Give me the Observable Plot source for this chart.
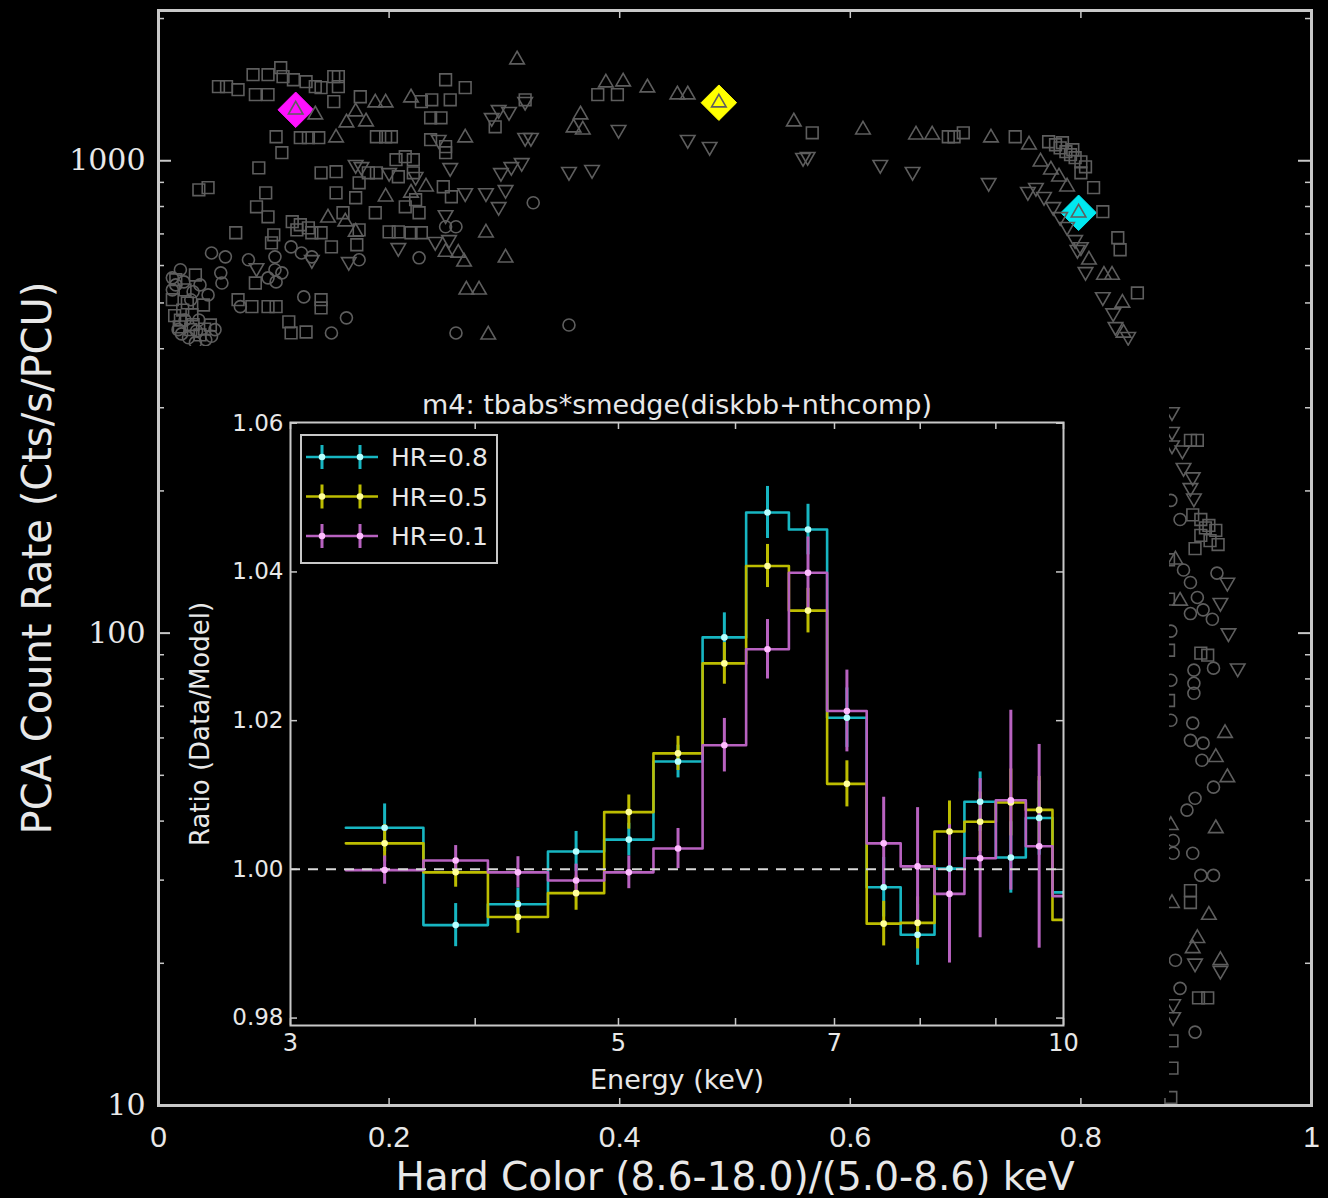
<!DOCTYPE html>
<html>
<head>
<meta charset="utf-8">
<script src="https://cdn.jsdelivr.net/npm/d3@7"></script>
<script src="https://cdn.jsdelivr.net/npm/@observablehq/plot@0.6"></script>
<style>
  html, body { margin: 0; padding: 0; background: #000; }
  #wrap { position: relative; width: 1328px; height: 1198px; overflow: hidden; background: #000; }
  #inset { position: absolute; left: 170px; top: 346px; }
  svg { display: block; }
</style>
</head>
<body>
<div id="wrap"><div id="main"></div><div id="inset"></div></div>
<script>
// ---------------- Hardness–intensity diagram: [hard colour, PCA count rate] ----------------
const squarePts = [
  [0.052,1435],[0.059,1435],[0.069,1414],[0.082,1521],[0.084,1380],[0.095,1521],[0.095,1380],[0.106,1574],[0.108,1507],[0.117,1484],
  [0.128,1470],[0.136,1435],[0.141,1428],[0.152,1507],[0.156,1507],[0.156,1435],[0.152,1334],[0.175,1366],[0.228,1334],[0.237,1346],
  [0.249,1484],[0.253,1346],[0.266,1428],[0.236,1233],[0.245,1233],[0.292,1180],[0.318,1346],
  [0.102,1124],[0.123,1119],[0.130,1119],[0.139,1119],[0.107,1040],[0.189,1124],[0.197,1124],[0.202,1124],[0.236,1108],[0.249,1071],[0.249,1040],
  [0.087,966],[0.141,943],[0.154,948],[0.174,898],[0.182,943],[0.189,943],[0.206,1005],[0.214,1020],[0.221,1005],[0.208,925],[0.221,943],[0.247,881],[0.254,839],
  [0.035,868],[0.043,877],[0.093,855],[0.085,799],[0.095,761],[0.154,855],[0.171,835],[0.160,776],[0.188,776],[0.214,799],[0.226,776],[0.223,827],
  [0.116,743],[0.123,732],[0.130,721],[0.120,714],[0.067,704],[0.100,697],[0.133,704],[0.141,704],[0.174,714],[0.200,707],[0.208,707],[0.219,704],[0.228,704],
  [0.150,657],[0.172,664],[0.098,670],
  [0.084,551],[0.069,508],[0.081,491],[0.095,491],[0.102,491],[0.141,508],[0.141,488],[0.113,456],[0.115,432],[0.128,434],
  [0.015,560],[0.023,533],[0.032,573],[0.019,460],[0.028,439],[0.036,428],[0.045,449],[0.012,508],[0.021,483],[0.029,472],[0.039,495],
  [0.018,445],[0.030,450],[0.040,440],[0.014,470],[0.025,500],
  [0.381,1380],[0.398,1380],[0.567,1146],[0.685,1124],
  [0.690,1124],[0.698,1146],[0.743,1124],[0.772,1097],[0.778,1081],[0.782,1065],[0.787,1045],[0.791,1030],[0.795,1015],[0.800,995],
  [0.804,971],[0.784,1092],[0.793,1055],[0.800,943],[0.811,877],[0.819,780],[0.832,687],[0.834,648],[0.849,525],
  [0.895,256],[0.901,256],[0.897,178],[0.904,174],[0.911,169],[0.917,165],[0.904,161],[0.912,157],[0.919,154],[0.899,151],[0.908,167],
  [0.904,90.7],[0.910,89.8],[0.895,28.5],[0.895,26.9],[0.902,16.9],[0.910,16.9],[0.879,13.7],[0.879,12.0],[0.878,10.4],
  [0.876,143],[0.876,118],[0.876,92],[0.876,72]
];
const triUpPts = [
  [0.188,1327],[0.197,1327],[0.171,1270],[0.163,1204],[0.180,1210],[0.154,1119],[0.136,1252],[0.219,1360],[0.266,1119],[0.232,881],
  [0.197,839],[0.219,855],[0.147,757],[0.162,743],[0.171,707],[0.284,704],[0.301,623],[0.249,641],[0.260,638],[0.265,611],
  [0.267,533],[0.278,533],[0.286,428],[0.311,1637],
  [0.388,1463],[0.403,1470],[0.424,1428],[0.450,1380],[0.459,1380],[0.366,1252],[0.360,1175],[0.368,1163],[0.551,1210],[0.611,1163],[0.657,1135],[0.671,1135],
  [0.722,1119],[0.755,1081],[0.765,995],[0.774,957],[0.781,925],[0.788,881],[0.807,617],[0.820,573],[0.827,573],[0.836,500],[0.837,432],
  [0.119,1282],[0.486,1327],[0.798,776],
  [0.925,61.4],[0.917,54.6],[0.927,49.5],[0.917,38.6],[0.878,39.2],[0.911,25.3],[0.901,22.6],[0.897,21.5],[0.921,20.3],[0.879,26.8],[0.886,117],[0.882,143]
];
const triDownPts = [
  [0.171,981],[0.176,971],[0.200,943],[0.223,925],[0.249,768],[0.253,966],[0.266,855],[0.284,855],[0.295,799],[0.301,868],
  [0.297,943],[0.306,971],[0.315,990],[0.318,1119],[0.323,1119],[0.289,1233],[0.295,1282],[0.304,1270],[0.318,1334],[0.133,617],
  [0.085,593],[0.208,654],[0.165,611],[0.240,674],[0.252,680],[0.243,1108],
  [0.399,1163],[0.459,1108],[0.478,1071],[0.559,1015],[0.563,1020],[0.626,981],[0.654,948],[0.356,948],[0.376,957],
  [0.720,898],[0.754,860],[0.761,877],[0.768,839],[0.776,799],[0.782,761],[0.788,725],[0.795,680],[0.800,657],[0.797,648],
  [0.804,582],[0.819,515],[0.828,476],[0.830,445],[0.841,424],
  [0.879,294],[0.879,267],[0.879,250],[0.888,244],[0.889,224],[0.897,214],[0.895,203],[0.898,193],[0.928,100],[0.936,84.3],
  [0.921,116],[0.927,128],[0.921,19.3],[0.899,20.0],[0.880,15.4],[0.880,16.4]
];
const circlePts = [
  [0.046,638],[0.058,626],[0.078,617],[0.101,626],[0.115,657],[0.124,638],[0.133,626],[0.101,588],[0.107,579],[0.095,565],
  [0.102,554],[0.054,579],[0.055,551],[0.174,617],[0.249,725],[0.258,725],[0.325,815],[0.226,623],[0.126,515],[0.163,465],
  [0.150,432],[0.258,432],[0.071,491],
  [0.015,546],[0.019,588],[0.028,508],[0.036,546],[0.017,439],[0.026,422],[0.035,460],[0.041,418],[0.049,439],[0.012,533],
  [0.023,460],[0.032,412],[0.043,520],[0.012,565],[0.022,554],[0.030,528],[0.020,430],[0.033,436],[0.046,425],
  [0.356,449],
  [0.895,128],[0.901,119],[0.895,110],[0.914,107],[0.906,112],[0.898,83.5],[0.915,84.3],[0.898,78.3],[0.898,74.6],[0.897,64.5],
  [0.889,136],[0.918,134],[0.895,59.3],[0.906,58.5],[0.905,53.8],[0.915,47.2],[0.899,44.7],[0.892,42.2],[0.880,36.4],[0.880,34.2],
  [0.897,34.2],[0.904,30.7],[0.915,30.7],[0.882,20.3],[0.899,14.3],[0.886,17.7],[0.878,101],[0.878,79.5],[0.878,65.4],[0.886,174],[0.878,191]
];

// Observations picked for the spectral ratios (hard colour, count rate)
const pickedHC   = [0.798, 0.486, 0.119];
const pickedRate = [776, 1327, 1282];

// Main axes
const mainXTicks = [0, 0.2, 0.4, 0.6, 0.8, 1];
const mainYTicks = [10, 100, 1000];
const mainYMinor = [20, 30, 40, 50, 60, 70, 80, 90, 200, 300, 400, 500, 600, 700, 800, 900, 2000];
const mainXLabel = "Hard Color (8.6-18.0)/(5.0-8.6) keV";
const mainYLabel = "PCA Count Rate (Cts/s/PCU)";

// ---------------- Inset: data/model ratio vs energy ----------------
const energyEdges = [3.27, 3.69, 4.08, 4.48, 4.89, 5.28, 5.70, 6.10, 6.52, 6.92, 7.36, 7.76, 8.18, 8.57, 9.00, 9.43, 9.83, 10.25];
const ratioHR08 = [1.0056, 0.9925, 0.9953, 1.0024, 1.0040, 1.0145, 1.0312, 1.0480, 1.0457, 1.0204, 0.9976, 0.9912, 1.0001, 1.0091, 1.0016, 1.0069, 0.9969];
const errorHR08 = [0.0032, 0.0029, 0.0022, 0.0027, 0.0022, 0.0022, 0.0033, 0.0035, 0.0034, 0.0040, 0.0040, 0.0041, 0.0045, 0.0040, 0.0048, 0.0050, 0.0050];
const ratioHR05 = [1.0035, 0.9996, 0.9936, 0.9968, 1.0077, 1.0156, 1.0277, 1.0408, 1.0348, 1.0115, 0.9927, 0.9928, 1.0051, 1.0064, 1.0090, 1.0080, 0.9932];
const errorHR05 = [0.0025, 0.0020, 0.0022, 0.0023, 0.0023, 0.0023, 0.0028, 0.0029, 0.0030, 0.0031, 0.0030, 0.0035, 0.0041, 0.0040, 0.0045, 0.0045, 0.0045];
const ratioHR01 = [0.9999, 1.0012, 0.9996, 0.9985, 0.9996, 1.0028, 1.0167, 1.0296, 1.0399, 1.0213, 1.0035, 1.0004, 0.9967, 1.0015, 1.0093, 1.0031, 0.9964];
const errorHR01 = [0.0019, 0.0020, 0.0021, 0.0022, 0.0022, 0.0027, 0.0036, 0.0040, 0.0048, 0.0055, 0.0062, 0.0079, 0.0093, 0.0107, 0.0121, 0.0137, 0.0130];
const seriesNames = ["HR=0.8", "HR=0.5", "HR=0.1"];

const insetXTicks = [3, 5, 7, 10];
const insetXMinor = [4, 6, 8, 9];
const insetYTicks = [0.98, 1.00, 1.02, 1.04, 1.06];
const insetTitle = "m4: tbabs*smedge(diskbb+nthcomp)";
const insetXLabel = "Energy (keV)";
const insetYLabel = "Ratio (Data/Model)";

// ---------------- styling ----------------
const lineColors = ["#17b6c2", "#bdbd00", "#b862c0"];
const dotColors  = ["#b8ffff", "#ffff9a", "#ffbcff"];
const pickColors = ["#00e8f0", "#ffff00", "#ff10ff"];
const markerGrey = "#5e5e5e";
const axisGrey = "#c8c8c8";
const textColor = "#e8e8e8";

// ---------------- main chart ----------------
const W = 1328, H = 1198;
const mL = 158, mR = 17, mT = 10, mB = 93;
const fW = W - mL - mR, fH = H - mT - mB;
const hc = d => d[0], rate = d => d[1];
const marker = {x: hc, y: rate, stroke: markerGrey, strokeWidth: 1.6, fill: "none"};

const picked = pickedHC.map((h, i) => ({hc: h, rate: pickedRate[i], color: pickColors[i]}));

const mainPlot = Plot.plot({
  width: W, height: H,
  marginLeft: mL, marginRight: mR, marginTop: mT, marginBottom: mB,
  style: {background: "#000", color: textColor, fontFamily: "DejaVu Sans"},
  x: {domain: [0, 1], label: null},
  y: {type: "log", domain: [10, 2080], label: null},
  marks: [
    // inward tick marks on all four sides
    Plot.ruleY(mainYTicks, {insetRight: fW - 13, stroke: axisGrey, strokeWidth: 2}),
    Plot.ruleY(mainYTicks, {insetLeft: fW - 13, stroke: axisGrey, strokeWidth: 2}),
    Plot.ruleY(mainYMinor, {insetRight: fW - 6, stroke: axisGrey, strokeWidth: 1.5}),
    Plot.ruleY(mainYMinor, {insetLeft: fW - 6, stroke: axisGrey, strokeWidth: 1.5}),
    Plot.ruleX(mainXTicks.slice(1, -1), {insetTop: fH - 8, stroke: axisGrey, strokeWidth: 1.5}),
    Plot.ruleX(mainXTicks.slice(1, -1), {insetBottom: fH - 8, stroke: axisGrey, strokeWidth: 1.5}),
    // highlighted observations
    Plot.dot(picked, {x: "hc", y: "rate", symbol: "diamond2", r: 16, fill: "color", stroke: "color", strokeWidth: 1}),
    // all observations
    Plot.dot(squarePts, {...marker, symbol: "square", r: 6.6}),
    Plot.dot(triUpPts, {...marker, symbol: "triangle", r: 5.4}),
    Plot.dot(triDownPts, {...marker, symbol: "triangle", r: 5.4, rotate: 180}),
    Plot.dot(circlePts, {...marker, symbol: "circle", r: 6}),
    Plot.frame({stroke: axisGrey, strokeWidth: 3}),
    Plot.axisY({ticks: mainYTicks, tickSize: 0, tickPadding: 13, tickFormat: d => String(d),
      fontFamily: "DejaVu Serif", fontSize: 30, fill: textColor, label: null}),
    Plot.axisX({ticks: mainXTicks, tickSize: 0, tickPadding: 20, tickFormat: d => String(d),
      fontFamily: "Liberation Sans", fontSize: 30, fill: textColor, label: null}),
    Plot.text([mainYLabel], {frameAnchor: "left", dx: -120, rotate: -90, textAnchor: "middle", fontSize: 40,
      fontFamily: "DejaVu Sans", fill: textColor}),
    Plot.text([mainXLabel], {frameAnchor: "bottom", dy: 84, lineAnchor: "bottom", fontSize: 39,
      fontFamily: "DejaVu Sans", fill: textColor})
  ]
});
document.getElementById("main").appendChild(mainPlot);

// ---------------- inset chart ----------------
const IW = 999, IH = 752;
const iL = 120, iR = 106, iT = 76, iB = 73;
const iFW = IW - iL - iR, iFH = IH - iT - iB;

const series = [
  {ratio: ratioHR08, error: errorHR08},
  {ratio: ratioHR05, error: errorHR05},
  {ratio: ratioHR01, error: errorHR01}
];
const stepRows = series.map(s => s.ratio.flatMap((v, i) => [
  {E: energyEdges[i], r: v}, {E: energyEdges[i + 1], r: v}
]));
const binRows = series.map(s => s.ratio.map((v, i) => ({
  E: Math.sqrt(energyEdges[i] * energyEdges[i + 1]), r: v, lo: v - s.error[i], hi: v + s.error[i]
})));

const insetPlot = Plot.plot({
  width: IW, height: IH,
  marginLeft: iL, marginRight: iR, marginTop: iT, marginBottom: iB,
  style: {background: "#000", color: textColor, fontFamily: "DejaVu Sans"},
  x: {type: "log", domain: [3, 10], label: null},
  y: {domain: [0.979, 1.0601], label: null},
  marks: [
    Plot.ruleX(insetXTicks.concat(insetXMinor), {insetTop: iFH - 7, stroke: axisGrey, strokeWidth: 1.5}),
    Plot.ruleX(insetXTicks.concat(insetXMinor), {insetBottom: iFH - 7, stroke: axisGrey, strokeWidth: 1.5}),
    Plot.ruleY(insetYTicks, {insetRight: iFW - 7, stroke: axisGrey, strokeWidth: 1.5}),
    Plot.ruleY(insetYTicks, {insetLeft: iFW - 7, stroke: axisGrey, strokeWidth: 1.5}),
    ...stepRows.map((rows, k) => Plot.line(rows, {x: "E", y: "r", stroke: lineColors[k], strokeWidth: 2.6, clip: true})),
    ...binRows.map((rows, k) => Plot.ruleX(rows, {x: "E", y1: "lo", y2: "hi", stroke: lineColors[k], strokeWidth: 3, clip: true})),
    Plot.ruleY([1], {stroke: "#d8d8d8", strokeWidth: 2, strokeDasharray: "10,8"}),
    ...binRows.map((rows, k) => Plot.dot(rows, {x: "E", y: "r", r: 3.3, fill: dotColors[k], clip: true})),
    Plot.frame({stroke: axisGrey, strokeWidth: 2}),
    Plot.axisY({ticks: insetYTicks, tickSize: 0, tickPadding: 7, tickFormat: d3.format(".2f"),
      fontFamily: "DejaVu Sans", fontSize: 23, fill: textColor, label: null}),
    Plot.axisX({ticks: insetXTicks, tickSize: 0, tickPadding: 8, tickFormat: d => String(d),
      fontFamily: "DejaVu Sans", fontSize: 24, fill: textColor, label: null}),
    Plot.text([insetTitle], {frameAnchor: "top", dy: -9, lineAnchor: "bottom", fontSize: 27,
      fontFamily: "DejaVu Sans", fill: textColor}),
    Plot.text([insetXLabel], {frameAnchor: "bottom", dy: 63, lineAnchor: "bottom", fontSize: 27,
      fontFamily: "DejaVu Sans", fill: textColor}),
    Plot.text([insetYLabel], {frameAnchor: "left", dx: -90, rotate: -90, textAnchor: "middle", fontSize: 26,
      fontFamily: "DejaVu Sans", fill: textColor})
  ]
});
document.getElementById("inset").appendChild(insetPlot);

// legend box in the upper-left corner of the inset frame
const legend = d3.select(insetPlot).append("g").attr("text-anchor", "start");
legend.append("rect")
  .attr("x", 131).attr("y", 89).attr("width", 196).attr("height", 128)
  .attr("fill", "#000").attr("stroke", axisGrey).attr("stroke-width", 2);
seriesNames.forEach((name, k) => {
  const y = 111 + k * 39.5;
  const g = legend.append("g").attr("transform", `translate(0,${y})`);
  g.append("line").attr("x1", 136).attr("x2", 208).attr("y1", 0).attr("y2", 0)
    .attr("stroke", lineColors[k]).attr("stroke-width", 2.6);
  [152, 190].forEach(cx => {
    g.append("line").attr("x1", cx).attr("x2", cx).attr("y1", -12).attr("y2", 12)
      .attr("stroke", lineColors[k]).attr("stroke-width", 3);
    g.append("circle").attr("cx", cx).attr("cy", 0).attr("r", 3.3).attr("fill", dotColors[k]);
  });
  g.append("text").attr("x", 221).attr("y", 0).attr("dy", "0.36em")
    .attr("text-anchor", "start")
    .attr("font-family", "DejaVu Sans").attr("font-size", 25).attr("fill", textColor)
    .text(name);
});
</script>
</body>
</html>
